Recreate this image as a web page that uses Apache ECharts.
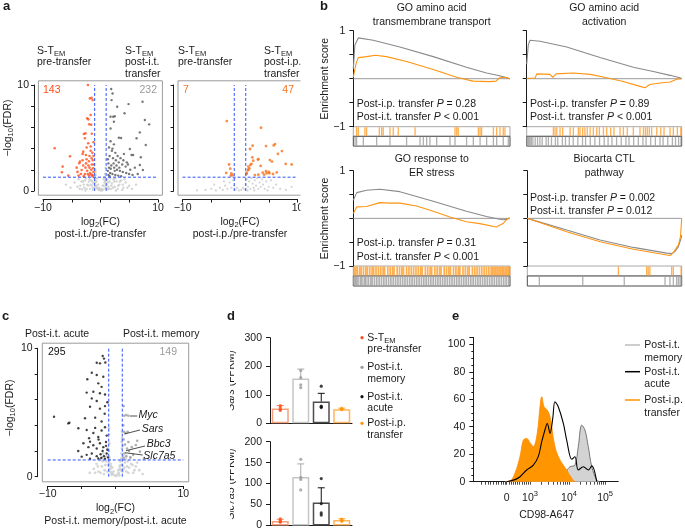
<!DOCTYPE html>
<html>
<head>
<meta charset="utf-8">
<script src="https://cdn.jsdelivr.net/npm/echarts@6.0.0/dist/echarts.min.js"></script>
<style>
html,body{margin:0;padding:0;background:#fff;}
#chart{width:685px;height:531px;}
</style>
</head>
<body>
<div id="chart"></div>
<script>
// ================= DATA =================
// ---- Panel a: volcano plots [log2FC, -log10 FDR] ----
const a1Down = [[-2.17,10.0],[-1.83,8.74],[-1.36,8.58],[-1.53,8.8],[-2.3,6.86],[-1.95,6.29],[-1.6,6.25],[-2.12,6.76],[-1.7,7.17],[-2.87,5.38],[-2.7,4.97],[-2.6,5.44],[-7.97,4.03],[-2.12,4.5],[-1.7,4.2],[-5.3,3.27],[-2.99,3.71],[-3.1,3.5],[-2.52,3.4],[-1.53,3.08],[-3.68,2.61],[-4.14,2.2],[-6.7,1.76],[-5.6,1.45],[-3.27,1.98],[-2.7,1.6],[-2.1,2.4],[-1.8,1.7],[-1.25,2.14],[-3.4,1.6],[-1.36,1.51],[-6.58,2.3],[-3.57,2.77],[-2.4,3.0],[-1.9,3.3],[-1.4,3.6],[-2.0,2.8],[-1.5,2.5],[-2.6,2.2],[-3.0,2.4],[-1.2,1.8],[-2.3,1.9],[-1.6,2.0],[-2.9,1.4],[-2.0,1.45],[-1.3,2.9],[-1.7,3.8],[-2.4,4.1],[-1.2,4.6],[-1.5,5.4],[-3.1,2.9],[-4.0,1.8],[-3.8,1.45],[-2.5,2.6],[-1.4,1.4],[-1.2,3.3],[-1.9,2.2],[-2.2,1.6],[-1.15,2.5],[-1.6,1.55]];
const a1Up = [[1.88,9.62],[2.12,9.2],[1.95,8.58],[2.92,7.95],[4.9,8.2],[7.34,8.42],[1.77,7.0],[2.23,7.0],[2.5,7.05],[2.35,6.54],[4.2,7.33],[7.74,6.7],[8.5,6.29],[1.77,5.9],[3.22,5.03],[3.6,5.0],[6.87,5.53],[6.3,4.97],[7.9,4.34],[2.35,4.4],[5.13,3.96],[5.42,3.4],[1.77,4.7],[1.5,4.1],[2.0,3.8],[2.6,3.6],[3.0,3.3],[3.5,3.1],[4.0,2.9],[4.6,2.7],[5.7,3.4],[7.04,3.18],[7.4,1.98],[6.87,2.45],[6.0,2.2],[5.2,2.0],[4.4,2.3],[3.8,2.5],[3.2,2.7],[2.7,2.9],[2.2,3.1],[1.6,3.3],[1.4,2.6],[1.9,2.4],[2.4,2.2],[2.9,2.0],[3.4,1.9],[3.9,1.8],[4.5,1.7],[5.0,1.6],[1.3,1.9],[1.7,1.7],[2.1,1.6],[2.6,1.5],[3.1,1.45],[3.6,1.4],[1.4,1.5],[1.8,2.1],[2.3,2.6],[2.8,2.4],[3.3,2.2],[1.5,2.2],[4.1,3.5],[1.3,3.0],[2.1,4.0],[4.8,2.5],[5.6,1.5],[6.5,1.6],[1.6,1.4],[2.5,1.9]];
const a1NS = [[-4.5,0.8],[-3.8,1.1],[-3.5,0.5],[-3.0,0.9],[-2.8,0.3],[-2.5,1.2],[-2.3,0.6],[-2.0,0.9],[-1.8,0.2],[-1.6,1.0],[-1.5,0.5],[-1.2,0.7],[-1.1,1.2],[-0.9,0.4],[-0.8,1.5],[-0.7,0.9],[-0.5,0.2],[-0.4,0.6],[-0.3,0.1],[-0.2,0.3],[0,0.05],[0.2,0.2],[0.4,0.5],[0.5,0.15],[0.7,0.8],[0.8,1.6],[0.9,0.3],[1.1,0.6],[1.2,1.1],[1.4,0.4],[1.6,0.9],[1.8,0.2],[2.0,0.7],[2.3,1.1],[2.5,0.4],[2.8,0.9],[3.0,0.2],[3.3,0.6],[3.6,1.0],[4.0,0.3],[4.4,0.8],[5.0,0.5],[5.5,0.2],[6.2,0.6],[-5.2,0.3],[-6.0,0.6],[-0.9,2.0],[0.9,2.2],[-0.6,1.2],[0.6,1.1],[-1.3,0.1],[1.3,0.15],[2.7,0.05],[-2.6,0.05],[3.8,0.1],[-3.2,0.15],
  [-3.6,0.2],[-3.3,0.9],[-2.9,0.6],[-2.7,1.0],[-2.4,0.2],[-2.1,0.5],[-1.9,1.1],[-1.7,0.6],[-1.4,0.9],[-1.3,0.3],[-1.0,0.8],[-1.0,1.3],[-0.9,1.0],[-0.85,1.8],[-0.7,0.5],[-0.6,0.3],[0.6,0.5],[0.75,1.3],[0.85,0.9],[1.0,0.3],[1.0,1.0],[1.3,0.8],[1.5,0.2],[1.7,1.2],[1.9,0.5],[2.2,0.3],[2.4,0.9],[2.6,1.2],[3.1,0.5],[3.4,0.9],[3.9,0.6],[4.2,1.1],[4.7,0.3],[-4.0,0.4],[0.3,0.05],[-0.1,0.15]];
const a2Down = [[-2.3,6.6],[-1.7,2.1],[-2.4,1.7],[-1.5,1.65],[-1.6,1.45],[-1.9,2.5],[-1.3,1.5]];
const a2Up = [[3.66,5.97],[6.1,4.43],[5.87,4.3],[4.53,4.24],[2.2,4.28],[1.74,3.96],[7.3,3.77],[6.6,3.5],[3.13,2.96],[5.2,2.92],[5.57,2.77],[7.96,2.55],[9.0,2.5],[1.8,2.45],[1.63,2.14],[3.6,2.36],[1.4,1.98],[4.53,1.86],[5.05,1.8],[3.95,1.73],[1.16,1.73],[1.16,1.6],[5.75,1.6],[3.2,1.54],[4.2,1.54],[2.0,2.55],[1.45,2.3],[2.3,2.86],[2.14,3.18],[3.2,3.0],[4.65,1.67],[5.1,1.67],[1.45,2.0],[2.6,1.5],[6.4,1.75]];
const a2NS = [[-7.5,0.05],[-6.0,0.1],[-5.0,0.2],[-4.2,0.05],[-3.5,0.3],[-3.0,0.1],[-2.6,0.5],[-2.2,0.2],[-1.8,0.8],[-1.5,0.3],[-1.2,1.0],[-1.0,0.5],[-0.8,0.1],[-0.5,0.3],[-0.2,0.05],[0.2,0.1],[0.5,0.3],[0.8,0.15],[1.0,0.6],[1.2,1.1],[1.4,0.4],[1.6,0.9],[1.8,0.2],[2.0,1.2],[2.2,0.7],[2.4,0.3],[2.6,1.0],[2.8,0.5],[3.0,1.2],[3.2,0.2],[3.4,0.8],[3.6,0.4],[3.8,1.1],[4.0,0.6],[4.3,0.2],[4.6,0.9],[5.0,0.4],[5.4,1.0],[5.8,0.3],[6.3,0.6],[7.0,0.2],[8.0,0.1],[9.0,0.4],[1.3,0.05],[2.5,0.05],[4.8,0.05],[-0.9,1.2],[-2.8,0.9],[-4.5,0.6]];
// ---- Panel c volcano ----
const cDown = [[-1.89,9.4],[-1.7,9.2],[-2.77,8.88],[-2.29,8.83],[-1.5,8.9],[-3.5,8.1],[-2.77,7.92],[-1.8,7.79],[-4.16,7.59],[-2.54,7.27],[-2.05,7.0],[-3.27,6.62],[-4.25,6.55],[-2.3,6.5],[-1.55,6.4],[-3.5,6.1],[-2.77,5.9],[-9.07,4.67],[-6.81,4.2],[-5.48,3.77],[-4.5,4.55],[-3.76,5.45],[-2.3,5.3],[-1.55,5.5],[-3.0,4.6],[-2.05,4.3],[-4.25,3.64],[-3.27,3.4],[-2.54,3.1],[-2.05,3.6],[-1.55,3.85],[-4.74,2.6],[-4.0,2.3],[-3.27,2.45],[-2.77,2.2],[-2.3,2.6],[-1.8,2.3],[-1.4,2.7],[-4.99,1.56],[-4.25,1.7],[-3.5,1.8],[-2.77,1.6],[-2.2,1.75],[-1.7,1.6],[-1.3,1.8],[-3.76,1.4],[-2.54,1.42],[-1.55,1.4],[-6.96,4.15],[-3.76,2.73],[-1.2,2.1],[-1.3,3.2],[-1.6,4.9],[-1.2,5.8],[-1.9,2.0],[-2.5,2.9],[-3.0,3.8],[-1.1,1.5],[-1.4,2.4],[-2.1,1.45],[-5.5,2.0],[-3.9,3.0]];
const cUp = [[1.3,4.75],[1.6,4.8],[1.9,4.75],[1.25,3.5],[1.5,3.4],[3.0,2.47],[3.2,2.8],[3.6,1.95],[1.8,3.5],[1.2,2.9],[1.4,2.5],[1.7,2.2],[2.0,2.0],[1.3,1.8],[1.6,1.6],[2.2,1.5],[2.6,1.7],[1.2,1.45],[1.9,2.7],[2.4,2.3],[1.15,4.0],[1.2,5.5],[4.2,1.4]];
const cNS = [[-3.2,0.6],[-2.8,1.0],[-2.5,0.4],[-2.3,1.3],[-2.0,0.8],[-1.8,1.8],[-1.6,0.5],[-1.4,1.2],[-1.2,2.2],[-1.1,0.9],[-0.9,1.5],[-0.8,0.6],[-0.7,1.0],[-0.6,0.3],[-0.5,0.7],[-0.4,0.2],[-0.3,0.4],[-0.1,0.1],[0.1,0.05],[0.3,0.2],[0.4,0.5],[0.5,0.3],[0.6,0.8],[0.7,1.2],[0.8,0.5],[0.9,1.8],[1.0,0.9],[1.1,2.4],[1.2,0.6],[1.4,1.1],[1.6,0.4],[1.8,1.2],[2.0,0.7],[2.3,1.0],[2.6,0.3],[3.0,0.8],[3.5,0.5],[-3.8,0.3],[4.0,0.2],[-0.9,2.6],[0.9,2.7],[-1.0,3.3],[1.0,3.0],
  [-2.6,0.8],[-2.2,0.3],[-1.9,1.2],[-1.7,0.2],[-1.5,0.9],[-1.3,1.6],[-1.2,0.4],[-1.0,1.1],[-0.95,2.0],[-0.85,1.3],[-0.75,0.4],[-0.65,0.8],[-0.55,0.15],[0.55,0.1],[0.65,0.6],[0.75,0.9],[0.85,1.4],[0.95,2.2],[1.05,0.4],[1.15,1.6],[1.3,0.7],[1.5,1.4],[1.7,0.8],[1.9,0.3],[2.2,1.5],[2.5,0.9],[2.8,0.5],[3.2,1.1],[-3.0,0.3],[-2.0,1.5],[-0.95,3.8],[0.95,3.5]];
const volX = [-10, -5, 0, 5, 10];
const volY = [0, 2, 4, 6, 8, 10];
const fcCut = [-1, 1];
const fdrCut = 1.3;
const countA1 = ['143', '232'];
const countA2 = ['7', '47'];
const countC = ['295', '149'];
const geneLabels = ['Myc', 'Sars', 'Bbc3', 'Slc7a5'];

// ---- Panel b: GSEA running enrichment score [rank %, ES] ----
const b1Gray = [[0,0.2],[1,0.7],[3.2,0.85],[12.7,0.8],[29.7,0.66],[51,0.46],[72.2,0.24],[85,0.12],[93.4,0.06],[100,0]];
const b1Orange = [[0,0.03],[1.7,0.31],[3.2,0.44],[8.5,0.46],[9.6,0.5],[14,0.49],[21.2,0.46],[34,0.36],[51,0.19],[65.9,0.03],[76.4,-0.05],[87,-0.06],[91,-0.05],[93.4,0.02],[97,0.03],[100,0]];
const b2Gray = [[0,0.3],[1,0.7],[2.1,0.8],[8.6,0.78],[25.8,0.66],[47.3,0.44],[68.8,0.24],[81.7,0.15],[92.5,0.07],[98.9,0.02],[100,0]];
const b2Orange = [[0,0.01],[5.4,0.01],[6.5,0.10],[15,0.09],[16.8,0.03],[18.9,0.10],[30,0.12],[41,0.09],[51.6,0.02],[62.3,-0.06],[73.1,-0.16],[76.3,-0.19],[79.5,-0.12],[86,-0.09],[92.5,-0.07],[96.8,-0.01],[100,0]];
const b3Gray = [[0,0.38],[2.2,0.54],[8.5,0.59],[17,0.61],[29.7,0.56],[51,0.36],[72.2,0.15],[85,0.04],[93.4,-0.02],[96,-0.03],[100,0]];
const b3Orange = [[0,0.1],[2.2,0.24],[8.5,0.25],[17,0.33],[23.4,0.32],[29.7,0.32],[40.3,0.26],[51,0.15],[61.6,0.03],[72.2,-0.07],[80.7,-0.11],[91.3,-0.18],[95.5,-0.11],[98.7,0.0],[100,0]];
const b4Gray = [[0,0],[25.5,-0.245],[47.1,-0.455],[68.7,-0.61],[90.3,-0.73],[93.5,-0.74],[95.5,-0.7],[97.8,-0.6],[99.3,-0.45],[100,-0.35]];
const b4Orange = [[0,0],[25.5,-0.28],[47.1,-0.49],[68.7,-0.65],[90.3,-0.77],[92.5,-0.78],[94.6,-0.72],[97.8,-0.56],[99.2,-0.39],[100,0]];
// gene hit positions (rank %) for barcode rows
const b1HitsIP = [2.1,3.2,7.4,8.5,16.6,18.1,19.1,23.4,25.5,28.7,39.4,64.9,66,67,79.8,80.9,81.9,89.4,91.5,93.6,95.7,96.8];
const b1HitsIT = [1.1,2.1,6.4,14.9,23.4,34,42.6,44.7,46.8,48.9,53.2,61.7,64.9,72.3,76.6,80.9,85.1,89.4,91.5,95.7,98.9];
const b2HitsIP = [17.2,18.3,19.4,21.5,23.2,28,30.1,33.3,34.4,36.1,37.6,39.1,40.9,43,45.2,46.9,49.5,51.6,54.2,56.3,60.2,62.4,64.9,68.8,73.1,75.3,76.6,77.8,79.1,80.6,83.9,86.5,88.6,92.5,94.6,97.2,99.4];
const b2HitsIT = [0.3,1,1.6,2.2,3,4,5.5,7,8.5,10,12.5,14,16,18.5,20,23,25,27.5,30,33,36,38,41,44,47,50,52.5,55,58,61,64,66,69,72,75,77,80,83,86,88,91,94,96,98,99.5];
const b3HitsIP = [0.5,1.5,2.5,4,5,6.5,8,9,10.5,12,13,14.5,16,17.5,19,20,22,23.5,25,26,28,29.5,31,32,34,35.5,37,38.5,40,41.5,43,44,46,47.5,49,50,52,53.5,55,56,58,59.5,61,62,64,65.5,67,68,70,71.5,73,74,76,77.5,79,80.5,82,83.5,85,86.5,88,89,90,91,92,93,94,95,96,97,98,99,99.7];
const b3HitsIT = [0.3,1.2,2,3,4.5,5.5,7,8,9.5,11,12,13.5,15,16.5,18,19.5,21,22.5,24,25.5,27,28.5,30,31.5,33,34.5,36,37.5,39,40.5,42,43.5,45,46.5,48,49.5,51,52.5,54,55.5,57,58.5,60,61.5,63,64.5,66,67.5,69,70.5,72,73.5,75,76.5,78,79.5,81,82.5,84,85.5,87,88.5,90,91.5,93,94.5,96,97.5,99];
const b4HitsIP = [59,77.3,78.3,79.4,93.5,94.6,99.6];
const b4HitsIT = [7.8,35.9,62.8,89.2,92.4,94.6,96.7,97.8,98.9,99.6];
const bTitles = [['GO amino acid','transmembrane transport'],['GO amino acid','activation'],['GO response to','ER stress'],['Biocarta CTL','pathway']];
const bPvalIP = ['= 0.28','= 0.89','= 0.31','= 0.002'];
const bPvalIT = ['< 0.001','< 0.001','< 0.001','= 0.012'];

// ---- Panel d: FPKM bar charts ----
const dGroups = ['S-TEM pre-transfer','Post-i.t. memory','Post-i.t. acute','Post-i.p. transfer'];
const sarsMean = [52, 157, 76, 49];
const sarsUpper = [62, 190, 105, 53];
const sarsPts = [[62,55,48,45],[185,160,135,125],[130,60,55,58],[52,50,48]];
const slcMean = [11, 116, 55, 13];
const slcUpper = [15, 147, 90, 16];
const slcPts = [[16,12,9,8],[158,115,110,85],[112,52,30,25],[15,12,10]];
const sarsTicks = [0, 100, 200, 300];
const slcTicks = [0, 50, 100, 150, 200];

// ---- Panel e: CD98 histograms [display position, % of max] ----
const eMemory = [[23,0],[48.3,1.2],[52.9,2.4],[57.5,3.6],[59.8,7.3],[62.1,6.1],[66.7,10.9],[70.1,12.1],[72.4,25.5],[74.8,41.2],[77,37.6],[79.3,25.5],[81.7,10.9],[85.1,1.2],[87.4,0]];
const eAcute = [[23,0],[28.7,1.5],[32.2,3.6],[36.8,8.5],[41.4,12.1],[44.8,18.2],[47.2,29.1],[49.4,37.6],[51,42.4],[52.9,35.2],[54.8,46.1],[56.3,58.2],[58.6,54.5],[62.1,42.4],[64.4,30.3],[67.9,16.3],[70.1,18.2],[72.4,8.5],[75.9,10.9],[79.3,8.5],[81.7,11.5],[85.1,0]];
const eIP = [[21.9,0],[25.3,0.4],[28.7,6.1],[32.2,18.2],[34.5,30.3],[36.8,31.5],[39.1,28.4],[41.4,25.5],[44.1,35.2],[46,54.5],[47.2,61.8],[48.8,54.5],[51,52.1],[52.9,47.3],[56.3,25.5],[59.8,15.8],[64.4,8.5],[67.9,2.4],[70.1,0]];
const eLabelAt = [23, 39.1, 66, 90.9];
const eLabelText = ['0', '10{sup|3}', '10{sup|4}', '10{sup|5}'];
const eTickAt = [5.8,8,10,12,14,16,17.5,19,20.5,21.8,23,24.5,26,27.5,29,30.5,32,33.5,35,36.5,37.8,39.1,47.2,51.9,55.3,57.9,60,61.8,63.4,64.8,66,73.6,77.8,80.9,83.3,85.3,86.9,88.4,89.7,90.9];
const eYTicks = [0, 20, 40, 60, 80, 100];

// ================= BUILD =================
const FONT = '"Liberation Sans", Arial, Helvetica, sans-serif';
const FS = 10.5;
const INK = '#1a1a1a';
const RED = '#ff4d1a', ORG = '#ff9500', ORG2 = '#f5741d';
const grids = [], xAxes = [], yAxes = [], series = [], graphics = [];
const minus = v => (v < 0 ? '\u2212' + Math.abs(v) : String(v));

function addGrid(g) { grids.push(g); return grids.length - 1; }
function addAxes(gi, xa, ya) {
  xAxes.push(Object.assign({gridIndex: gi}, xa));
  yAxes.push(Object.assign({gridIndex: gi}, ya));
  return [xAxes.length - 1, yAxes.length - 1];
}
const hid = (min, max) => ({type: 'value', min, max, show: false});
const axLine = {show: true, onZero: false, lineStyle: {color: INK, width: 1}};
const axTick = len => ({show: true, length: len, inside: false, lineStyle: {color: INK, width: 1}});
const lab = (o) => Object.assign({fontSize: FS, color: INK, fontFamily: FONT}, o);

function richFor(color) {
  return {
    sub: {fontSize: 7.5, lineHeight: 8, verticalAlign: 'bottom', fontFamily: FONT, fill: color, color: color},
    sup: {fontSize: 7.5, lineHeight: 8, verticalAlign: 'top', fontFamily: FONT, fill: color, color: color},
    i: {fontSize: FS, fontStyle: 'italic', fontFamily: FONT, fill: color, color: color}
  };
}
function T(x, y, text, o) {
  o = o || {};
  const color = o.color || INK;
  graphics.push({
    type: 'text', x: x, y: y, rotation: o.rot || 0, z: 100, silent: true,
    style: {
      text: text, fill: color, fontSize: o.size || FS, fontFamily: FONT,
      fontWeight: o.weight || 'normal', fontStyle: o.italic ? 'italic' : 'normal',
      align: o.align || 'left', verticalAlign: o.va || 'middle',
      textAlign: o.align || 'left', textVerticalAlign: o.va || 'middle',
      lineHeight: o.lh || 14, rich: richFor(color)
    }
  });
}

// ---------- volcano ----------
function volcano(c) {
  const gb = addGrid({left: c.boxL, top: c.boxT, width: c.boxW, height: c.boxH, show: true,
    borderColor: '#9b9b9b', borderWidth: 1, backgroundColor: 'rgba(0,0,0,0)'});
  const [xi, yi] = addAxes(gb, hid(-10.8, 10.8), hid(-0.4, 10.4));
  const gt = addGrid({left: c.tL, top: c.tT, width: c.tW, height: c.tH});
  const xFirst = volX[0], xLast = volX[volX.length - 1];
  addAxes(gt,
    {type: 'value', min: xFirst, max: xLast, interval: volX[1] - volX[0], offset: c.xOff,
     axisLine: axLine, axisTick: axTick(3), splitLine: {show: false},
     axisLabel: lab({margin: 3, formatter: v => (v === xFirst || v === xLast) ? minus(v) : ''})},
    {type: 'value', min: volY[0], max: volY[volY.length - 1], interval: volY[1] - volY[0], offset: c.yOff,
     axisLine: axLine, axisTick: axTick(3), splitLine: {show: false},
     axisLabel: lab({show: c.yLab, margin: 5, formatter: v => (v === volY[0] || v === volY[volY.length - 1]) ? String(v) : ''})});
  c.sets.forEach(s => series.push({type: 'scatter', xAxisIndex: xi, yAxisIndex: yi, data: s.data,
    symbolSize: s.size, itemStyle: {color: s.color}, silent: true, z: s.z || 2, animation: false}));
  const dash = {color: '#2f52ff', width: 1, type: [3, 2]};
  fcCut.forEach(f => series.push({type: 'line', xAxisIndex: xi, yAxisIndex: yi, data: [[f, 0], [f, 10]],
    symbol: 'none', lineStyle: dash, silent: true, z: 5}));
  series.push({type: 'line', xAxisIndex: xi, yAxisIndex: yi, data: [[-10, fdrCut], [10, fdrCut]],
    symbol: 'none', lineStyle: dash, silent: true, z: 5});
}

// a1
volcano({boxL: 38.4, boxT: 80.8, boxW: 124, boxH: 114.4, tL: 43, tT: 85, tW: 115, tH: 106, xOff: 8.5, yOff: 9, yLab: true,
  sets: [{data: a1NS, color: '#c9c9c9', size: 2.4, z: 1}, {data: a1Up, color: '#555555', size: 2.4}, {data: a1Down, color: RED, size: 2.6}]});
// a2
volcano({boxL: 178, boxT: 80.8, boxW: 124, boxH: 114.4, tL: 182.6, tT: 85, tW: 115, tH: 106, xOff: 8.5, yOff: 9, yLab: false,
  sets: [{data: a2NS, color: '#c9c9c9', size: 2.2, z: 1}, {data: a2Up, color: ORG2, size: 2.8}, {data: a2Down, color: ORG2, size: 2.8}]});
// c
volcano({boxL: 42.3, boxT: 343.2, boxW: 146.4, boxH: 138.6, tL: 47.7, tT: 348.3, tW: 135.6, tH: 128.4, xOff: 9.3, yOff: 10, yLab: true,
  sets: [{data: cNS, color: '#cdcdcd', size: 2.8, z: 1}, {data: cUp, color: '#9a9a9a', size: 2.6}, {data: cDown, color: '#111', size: 2.4}]});

// ---------- GSEA ----------
function gsea(p) {
  const gi = addGrid({left: p.left, top: p.top, width: p.width, height: p.height});
  const [xi, yi] = addAxes(gi, hid(0, 100),
    {type: 'value', min: -1, max: 1, interval: 0.5, axisLine: axLine, axisTick: axTick(4), splitLine: {show: false},
     axisLabel: lab({show: p.yLab, margin: 8, formatter: v => v === 1 ? '1' : (v === -1 ? '\u22121' : '')})});
  series.push({type: 'line', xAxisIndex: xi, yAxisIndex: yi, data: [[0, 0], [100, 0]], symbol: 'none',
    lineStyle: {color: '#9a9a9a', width: 1}, silent: true, z: 1});
  series.push({type: 'line', xAxisIndex: xi, yAxisIndex: yi, data: p.gray, symbol: 'none',
    lineStyle: {color: '#8a8a8a', width: 1.1}, silent: true, z: 2});
  series.push({type: 'line', xAxisIndex: xi, yAxisIndex: yi, data: p.orange, symbol: 'none',
    lineStyle: {color: '#ff9412', width: 1.1}, silent: true, z: 3});
  const rows = [[p.hitsIP, '#ff9a24', '#a8a8a8', p.top + p.height, p.h1],
                [p.hitsIT, '#9c9c9c', '#4a4a4a', p.top + p.height + p.h1, p.h2]];
  rows.forEach(([vals, col, border, top, h]) => {
    const g = addGrid({left: p.left, top: top, width: p.width, height: h, show: true, borderColor: border, borderWidth: 1, backgroundColor: '#fff'});
    const [bx, by] = addAxes(g, hid(0, 100), hid(0, 1));
    series.push({type: 'scatter', xAxisIndex: bx, yAxisIndex: by, data: vals.map(v => [v, 0.5]), symbol: 'rect',
      symbolSize: [p.tw || 1.3, h - 1], itemStyle: {color: col}, silent: true, z: 2});
  });
}
gsea({left: 353.3, top: 30.7, width: 156.7, height: 96, h1: 9.6, h2: 9.8, gray: b1Gray, orange: b1Orange, hitsIP: b1HitsIP, hitsIT: b1HitsIT, yLab: true});
gsea({left: 526.7, top: 30.7, width: 155, height: 96, h1: 9.6, h2: 9.8, gray: b2Gray, orange: b2Orange, hitsIP: b2HitsIP, hitsIT: b2HitsIT, yLab: false});
gsea({left: 353.3, top: 170.7, width: 156.7, height: 95.3, h1: 10, h2: 10, gray: b3Gray, orange: b3Orange, hitsIP: b3HitsIP, hitsIT: b3HitsIT, yLab: true, tw: 1.7});
gsea({left: 527.3, top: 170.7, width: 154.4, height: 95.3, h1: 10, h2: 10, gray: b4Gray, orange: b4Orange, hitsIP: b4HitsIP, hitsIT: b4HitsIT, yLab: false});

// ---------- bar panels ----------
const dBorder = ['#f8a07c', '#c6c6c6', '#4d4d4d', '#ffb45e'];
const dErrCol = ['#ff7a4a', '#aaaaaa', '#111111', '#ff9a2a'];
const dPtCol = [RED, '#9a9a9a', '#111111', ORG];
function barPanel(p) {
  const gi = addGrid({left: p.left, top: p.top, width: p.width, height: p.height});
  const [xi, yi] = addAxes(gi,
    {type: 'category', data: dGroups, axisLine: {show: true, lineStyle: {color: INK, width: 1}}, axisTick: {show: false}, axisLabel: {show: false}},
    {type: 'value', min: p.ticks[0], max: p.ticks[p.ticks.length - 1], interval: p.ticks[1] - p.ticks[0],
     axisLine: axLine, axisTick: axTick(4), splitLine: {show: false}, axisLabel: lab({margin: 8})});
  series.push({type: 'bar', xAxisIndex: xi, yAxisIndex: yi, barWidth: 17, silent: true, z: 2,
    data: p.mean.map((m, i) => ({value: m, itemStyle: {color: '#fff', borderColor: dBorder[i], borderWidth: 1.5}}))});
  series.push({type: 'custom', xAxisIndex: xi, yAxisIndex: yi, silent: true, z: 3,
    data: p.mean.map((m, i) => [i, m, p.upper[i]]),
    renderItem: (params, api) => {
      const i = api.value(0);
      const lo = api.coord([i, api.value(1)]), hi = api.coord([i, api.value(2)]);
      const col = dErrCol[params.dataIndex];
      return {type: 'group', children: [
        {type: 'line', shape: {x1: lo[0], y1: lo[1], x2: hi[0], y2: hi[1]}, style: {stroke: col, lineWidth: 1}},
        {type: 'line', shape: {x1: hi[0] - 3.5, y1: hi[1], x2: hi[0] + 3.5, y2: hi[1]}, style: {stroke: col, lineWidth: 1}}]};
    }});
  p.pts.forEach((arr, i) => series.push({type: 'scatter', xAxisIndex: xi, yAxisIndex: yi, silent: true, z: 4,
    data: arr.map(v => [i, v]), symbolSize: 3.2, itemStyle: {color: dPtCol[i]}}));
}
barPanel({left: 270, top: 337.7, width: 82, height: 85.6, ticks: sarsTicks, mean: sarsMean, upper: sarsUpper, pts: sarsPts});
barPanel({left: 270, top: 441.7, width: 82, height: 85, ticks: slcTicks, mean: slcMean, upper: slcUpper, pts: slcPts});

// ---------- histogram panel e ----------
(function () {
  const gi = addGrid({left: 473.3, top: 337.4, width: 145, height: 144.3});
  const [xi, yi] = addAxes(gi,
    {type: 'value', min: 0, max: 100, axisLine: axLine, splitLine: {show: false},
     axisTick: {show: true, length: 3, customValues: eTickAt, lineStyle: {color: INK, width: 0.8}},
     axisLabel: lab({customValues: eLabelAt, margin: 8, lineHeight: 16,
       formatter: v => { const k = eLabelAt.indexOf(v); return k >= 0 ? eLabelText[k] : ''; },
       rich: {sup: {fontSize: 7.5, lineHeight: 8, verticalAlign: 'top', color: INK, fontFamily: FONT}}})},
    {type: 'value', min: 0, max: 105, interval: eYTicks[1] - eYTicks[0], axisLine: axLine, axisTick: axTick(4),
     minorTick: {show: true, splitNumber: 4, length: 2, lineStyle: {color: INK}}, splitLine: {show: false}, minorSplitLine: {show: false},
     axisLabel: lab({margin: 8, formatter: v => (eYTicks.indexOf(v) >= 0 ? String(v) : '')})});
  series.push({type: 'line', xAxisIndex: xi, yAxisIndex: yi, data: eMemory, smooth: 0.35, symbol: 'none', silent: true, z: 2,
    lineStyle: {color: '#5a5a5a', width: 0.8}, areaStyle: {color: '#d3d3d3', opacity: 1}});
  series.push({type: 'line', xAxisIndex: xi, yAxisIndex: yi, data: eIP, smooth: 0.35, symbol: 'none', silent: true, z: 3,
    lineStyle: {color: '#ff8c00', width: 0.8}, areaStyle: {color: ORG, opacity: 1}});
  series.push({type: 'line', xAxisIndex: xi, yAxisIndex: yi, data: eAcute, smooth: 0.35, symbol: 'none', silent: true, z: 4,
    lineStyle: {color: '#000', width: 1.1}});
})();

// ================= TEXT =================
// panel letters
T(3, 6, 'a', {weight: 'bold', size: 13});
T(320, 6, 'b', {weight: 'bold', size: 13});
T(2, 316, 'c', {weight: 'bold', size: 13});
T(227, 316, 'd', {weight: 'bold', size: 13});
T(452, 316, 'e', {weight: 'bold', size: 13});
// panel a
T(37, 51, 'S-T{sub|EM}'); T(37, 62, 'pre-transfer');
T(125, 51, 'S-T{sub|EM}'); T(125, 62, 'post-i.t.'); T(125, 74, 'transfer');
T(178, 51, 'S-T{sub|EM}'); T(178, 62, 'pre-transfer');
T(264, 51, 'S-T{sub|EM}'); T(264, 62, 'post-i.p.'); T(264, 74, 'transfer');
T(43, 90, countA1[0], {color: RED}); T(157, 90, countA1[1], {color: '#9a9a9a', align: 'right'});
T(183, 90, countA2[0], {color: ORG2}); T(294, 90, countA2[1], {color: ORG2, align: 'right'});
T(100.5, 222, 'log{sub|2}(FC)', {align: 'center'}); T(100.5, 234.5, 'post-i.t./pre-transfer', {align: 'center'});
T(240, 222, 'log{sub|2}(FC)', {align: 'center'}); T(240, 234.5, 'post-i.p./pre-transfer', {align: 'center'});
T(8, 128, '\u2212log{sub|10}(FDR)', {align: 'center', rot: Math.PI / 2});
// panel b
const bCenters = [[431.7, 8, 22], [604.2, 8, 22], [431.7, 159.5, 173], [604.2, 159.5, 173]];
bTitles.forEach((t, k) => { T(bCenters[k][0], bCenters[k][1], t[0], {align: 'center'}); T(bCenters[k][0], bCenters[k][2], t[1], {align: 'center'}); });
T(325, 78.7, 'Enrichment score', {align: 'center', rot: Math.PI / 2});
T(325, 218.4, 'Enrichment score', {align: 'center', rot: Math.PI / 2});
const bPpos = [[356.7, 104, 117.3], [530, 104, 117.3], [356.7, 243.3, 256.7], [530, 197.7, 210.7]];
bPpos.forEach((p, k) => {
  T(p[0], p[1], 'Post-i.p. transfer {i|P} ' + bPvalIP[k]);
  T(p[0], p[2], 'Post-i.t. transfer {i|P} ' + bPvalIT[k]);
});
// panel c
T(25, 334, 'Post-i.t. acute'); T(123, 334, 'Post-i.t. memory');
T(48, 352, countC[0], {color: '#111'}); T(177, 352, countC[1], {color: '#9a9a9a', align: 'right'});
T(115.5, 508.5, 'log{sub|2}(FC)', {align: 'center'}); T(115.5, 521.5, 'Post-i.t. memory/post-i.t. acute', {align: 'center'});
T(10, 408, '\u2212log{sub|10}(FDR)', {align: 'center', rot: Math.PI / 2});
const geneAt = [[138.5, 415], [141.7, 429.3], [146.7, 444], [143.3, 456]];
const geneLead = [[130, 416, 137.3, 416], [124.3, 434, 140, 430], [126, 450.7, 145, 446], [125, 452.7, 142.7, 455]];
geneLabels.forEach((g, k) => {
  T(geneAt[k][0], geneAt[k][1], g, {italic: true});
  const L = geneLead[k];
  graphics.push({type: 'line', z: 100, silent: true, shape: {x1: L[0], y1: L[1], x2: L[2], y2: L[3]}, style: {stroke: '#222', lineWidth: 0.8}});
});
// panel d
T(231.5, 380.5, '{i|Sars} (FPKM)', {align: 'center', rot: Math.PI / 2});
T(231.5, 484, '{i|Slc7a5} (FPKM)', {align: 'center', rot: Math.PI / 2});
const dLeg = [[337.7, 'S-T{sub|EM}', 'pre-transfer'], [367.3, 'Post-i.t.', 'memory'], [396.7, 'Post-i.t.', 'acute'], [423.3, 'Post-i.p.', 'transfer']];
dLeg.forEach((r, k) => {
  graphics.push({type: 'circle', z: 100, silent: true, shape: {cx: 362, cy: r[0], r: 1.6}, style: {fill: dPtCol[k]}});
  T(367.3, r[0], r[1]); T(367.3, r[0] + 11.6, r[2]);
});
// panel e
T(546.7, 515, 'CD98-A647', {align: 'center'});
const eLeg = [[345, 'Post-i.t.', 'memory', '#bdbdbd'], [371.7, 'Post-i.t.', 'acute', '#000'], [400, 'Post-i.p.', 'transfer', ORG]];
eLeg.forEach(r => {
  graphics.push({type: 'line', z: 100, silent: true, shape: {x1: 625, y1: r[0], x2: 640, y2: r[0]}, style: {stroke: r[3], lineWidth: 1.5}});
  T(644.3, r[0], r[1]); T(644.3, r[0] + 12.7, r[2]);
});
// crop edges as in reference (figure panels cropped)
graphics.push({type: 'rect', z: 120, silent: true, shape: {x: 300.5, y: 30, width: 16, height: 215}, style: {fill: '#fff'}});
graphics.push({type: 'rect', z: 120, silent: true, shape: {x: 221, y: 330, width: 9, height: 201}, style: {fill: '#fff'}});

const chart = echarts.init(document.getElementById('chart'), null, {renderer: 'canvas'});
chart.setOption({
  animation: false,
  backgroundColor: '#fff',
  textStyle: {fontFamily: FONT},
  grid: grids, xAxis: xAxes, yAxis: yAxes, series: series,
  graphic: {elements: graphics}
});
</script>
</body>
</html>
